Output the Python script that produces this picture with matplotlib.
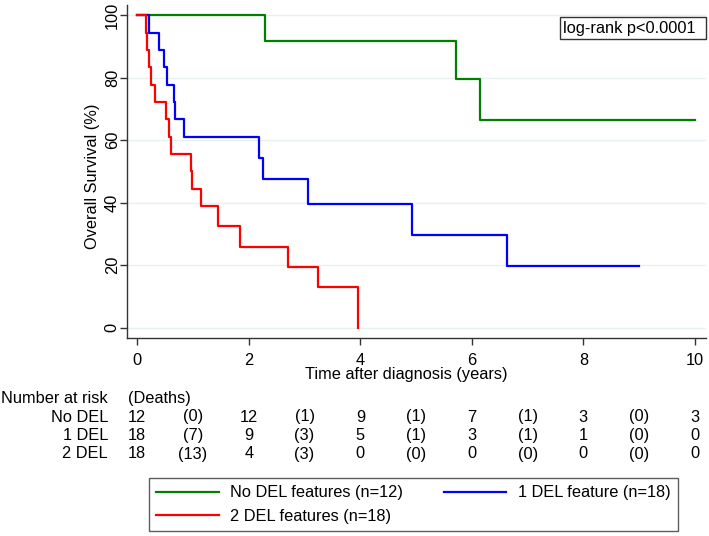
import matplotlib
matplotlib.use("Agg")
import matplotlib.pyplot as plt
from matplotlib.patches import Rectangle
from matplotlib.transforms import blended_transform_factory

plt.rcParams['font.family'] = ['Liberation Sans', 'DejaVu Sans']

# ---- data ----
green_t = [0, 2.29, 5.71, 6.14, 10.0]
green_s = [100, 91.7, 79.5, 66.3, 66.3]

blue_t = [0, 0.21, 0.39, 0.48, 0.54, 0.66, 0.68, 0.84, 2.18, 2.25, 3.07, 4.92, 6.63, 9.00]
blue_s = [100, 94.4, 88.9, 83.3, 77.8, 72.2, 66.7, 61.1, 54.3, 47.5, 39.6, 29.7, 19.8, 19.8]

red_t = [0, 0.16, 0.17, 0.21, 0.25, 0.32, 0.51, 0.57, 0.60, 0.96, 0.98, 1.15, 1.45, 1.84, 2.71, 3.25, 3.96]
red_s = [100, 94.4, 88.9, 83.3, 77.8, 72.2, 66.7, 61.1, 55.6, 50.0, 44.4, 38.9, 32.4, 25.9, 19.4, 13.0, 0]

legend_labels = ["No DEL features (n=12)", "1 DEL feature (n=18)", "2 DEL features (n=18)"]
row_labels = ["No DEL", "1 DEL", "2 DEL"]
risk_times = [0, 2, 4, 6, 8, 10]
death_times = [1, 3, 5, 7, 9]
at_risk = [[12, 12, 9, 7, 3, 3],
           [18, 9, 5, 3, 1, 0],
           [18, 4, 0, 0, 0, 0]]
deaths = [[0, 1, 1, 1, 0],
          [7, 3, 1, 1, 0],
          [13, 3, 0, 0, 0]]

colors = ["#008000", "#0000ff", "#ff0000"]
FS = 11.8
W, H = 709, 536

fig = plt.figure(figsize=(W / 100, H / 100), dpi=100)
ax = fig.add_axes([126.7 / W, 1 - 337.7 / H, (706 - 126.7) / W, (337.7 - 4.5) / H])
ax.set_xlim(-0.19, 10.2)
ax.set_ylim(-3.2, 103.4)

for y in range(0, 101, 20):
    ax.axhline(y, color="#e8f0f2", lw=1.0, zorder=0)

lg, = ax.plot(green_t, green_s, drawstyle="steps-post", color=colors[0], lw=1.6, label=legend_labels[0])
lb, = ax.plot(blue_t, blue_s, drawstyle="steps-post", color=colors[1], lw=1.6, label=legend_labels[1])
lr, = ax.plot(red_t, red_s, drawstyle="steps-post", color=colors[2], lw=1.6, label=legend_labels[2])

for s in ["top", "right"]:
    ax.spines[s].set_visible(False)
for s in ["left", "bottom"]:
    ax.spines[s].set_color("#333333")
    ax.spines[s].set_linewidth(1.0)

ax.set_xticks(risk_times)
ax.set_yticks(range(0, 101, 20))
ax.tick_params(axis="both", direction="out", length=5, width=1, color="#333333", labelsize=FS)
ax.tick_params(axis="x", pad=6)
ax.tick_params(axis="y", pad=0)
for lab in ax.get_yticklabels():
    lab.set_rotation(90)
    lab.set_va("center")

fig.text(406 / W, 1 - 379.5 / H, "Time after diagnosis (years)", ha="center", va="baseline", fontsize=FS)
fig.text(93 / W, 1 - 176.5 / H, "Overall Survival (%)", ha="center", va="center", rotation=90, fontsize=FS)

# log-rank box
fig.add_artist(Rectangle((560.3 / W, 1 - 39 / H), (706 - 560.3) / W, (39 - 16.7) / H,
                         transform=fig.transFigure, fill=False, ec="#333333", lw=1.0))
fig.text(629 / W, 1 - 33.5 / H, "log-rank p<0.0001", ha="center", va="baseline", fontsize=FS)

# number at risk table
tr = blended_transform_factory(ax.transData, fig.transFigure)
def ybase(px):
    return 1 - px / H

fig.text(108 / W, ybase(403), "Number at risk", ha="right", va="baseline", fontsize=FS)
ax.text(-0.17, ybase(403), "(Deaths)", ha="left", va="baseline", fontsize=FS, transform=tr, clip_on=False)
row_y = [421.5, 440, 458.5]
for i, lab in enumerate(row_labels):
    fig.text(108 / W, ybase(row_y[i]), lab, ha="right", va="baseline", fontsize=FS)
    for t, n in zip(risk_times, at_risk[i]):
        ax.text(t, ybase(row_y[i]), str(n), ha="center", va="baseline", fontsize=FS, transform=tr, clip_on=False)
    for t, d in zip(death_times, deaths[i]):
        ax.text(t, ybase(row_y[i]), f"({d})", ha="center", va="baseline", fontsize=FS, transform=tr, clip_on=False)

# legend (row-major order: No DEL, 1 DEL / 2 DEL)
leg = fig.legend([lg, lr, lb], [legend_labels[0], legend_labels[2], legend_labels[1]],
                 ncol=2, loc="upper left", bbox_to_anchor=(149 / W, 1 - 478 / H),
                 borderaxespad=0, fontsize=FS, frameon=True, fancybox=False,
                 edgecolor="#333333", handlelength=3.8, handletextpad=0.7,
                 columnspacing=2.5, labelspacing=0.5, borderpad=0.45)
leg.get_frame().set_linewidth(1.0)

fig.savefig("out.png", dpi=100)
